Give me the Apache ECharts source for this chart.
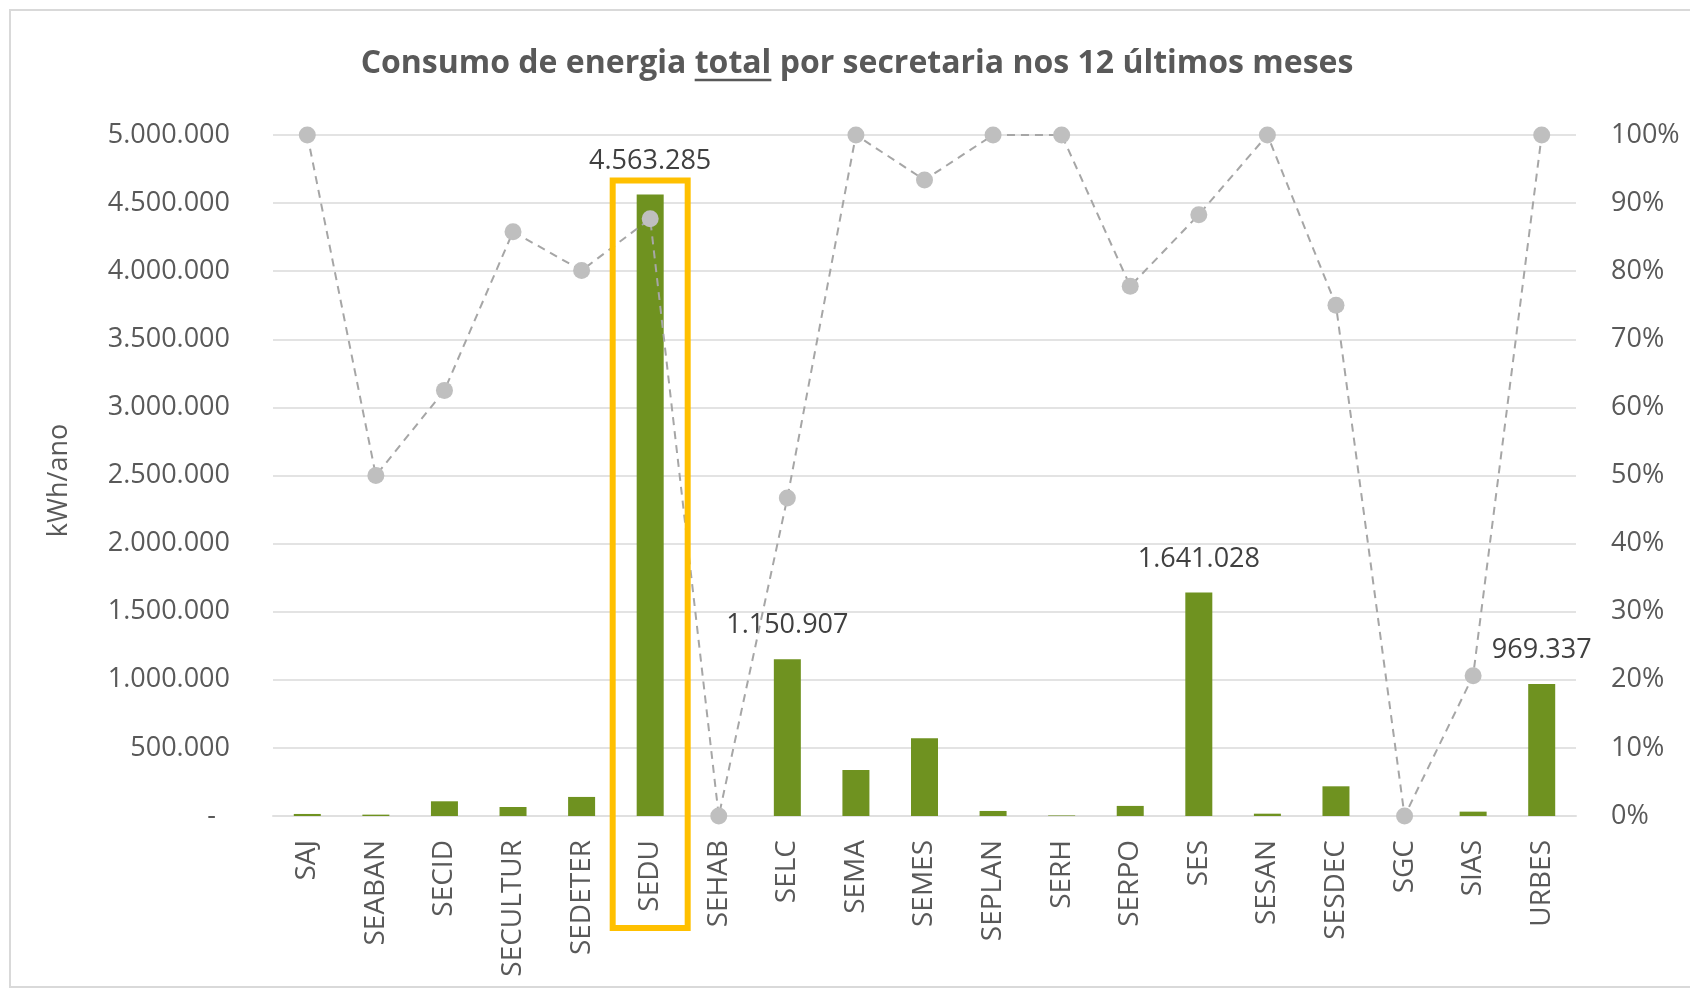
<!DOCTYPE html>
<html>
<head>
<meta charset="utf-8">
<script src="https://cdn.jsdelivr.net/npm/echarts@6/dist/echarts.min.js"></script>
<style>
html,body{margin:0;padding:0;background:#fff;}
#c{width:1690px;height:989px;}
</style>
</head>
<body>
<div id="c"></div>
<script>
const categories = ['SAJ','SEABAN','SECID','SECULTUR','SEDETER','SEDU','SEHAB','SELC','SEMA','SEMES','SEPLAN','SERH','SERPO','SES','SESAN','SESDEC','SGC','SIAS','URBES'];
const consumo = [15000, 10000, 108000, 66000, 140000, 4563285, 0, 1150907, 338000, 571000, 37000, 4000, 74000, 1641028, 17000, 218000, 0, 32000, 969337];
const percentual = [1.00, 0.50, 0.625, 0.858, 0.801, 0.877, 0.00, 0.467, 1.00, 0.934, 1.00, 1.00, 0.778, 0.883, 1.00, 0.75, 0.00, 0.206, 1.00];
const labeledBars = ['SEDU','SELC','SES','URBES'];
const highlighted = 'SEDU';
const titleParts = ['Consumo de energia ', 'total', ' por secretaria nos 12 últimos meses'];
const yAxisName = 'kWh/ano';

const FONT = "'Open Sans', 'Noto Sans', sans-serif";
const TXT = '#595959';
const FS = 27;

function fmt(v){
  return Math.round(v).toString().replace(/\B(?=(\d{3})+(?!\d))/g, '.');
}

const chart = echarts.init(document.getElementById('c'), null, {renderer:'canvas'});

const barData = consumo.map((v,i)=>({
  value: v,
  label: {show: labeledBars.indexOf(categories[i]) >= 0}
}));

const option = {
  animation: false,
  backgroundColor: '#fff',
  grid: {left: 273, right: 114, top: 135, bottom: 173, containLabel: false},
  xAxis: {
    type: 'category',
    data: categories,
    axisLine: {show: true, lineStyle: {color: '#e0e0e0', width: 2}},
    axisTick: {show: false},
    axisLabel: {rotate: 90, margin: 24, color: TXT, fontSize: 28, fontFamily: FONT, interval: 0}
  },
  yAxis: [{
    type: 'value', min: 0, max: 5000000, interval: 500000,
    name: yAxisName, nameLocation: 'middle', nameGap: 200, nameRotate: 90,
    nameTextStyle: {color: TXT, fontSize: FS, fontFamily: FONT, padding: [0,0,0,-10]},
    axisLine: {show: false}, axisTick: {show: false},
    splitLine: {lineStyle: {color: '#e3e3e3', width: 2}},
    axisLabel: {
      margin: 43, color: TXT, fontSize: FS, fontFamily: FONT,
      formatter: v => v === 0 ? '{d|-}' : fmt(v),
      rich: {d: {color: TXT, fontSize: FS, fontFamily: FONT, padding: [0,14,0,0]}}
    }
  },{
    type: 'value', min: 0, max: 1, interval: 0.1, position: 'right',
    axisLine: {show: false}, axisTick: {show: false}, splitLine: {show: false},
    axisLabel: {margin: 35, color: TXT, fontSize: FS, fontFamily: FONT,
      formatter: v => Math.round(v*100) + '%'}
  }],
  series: [{
    type: 'bar', data: barData, barWidth: 27, yAxisIndex: 0,
    itemStyle: {color: '#6f9220'},
    label: {position: 'top', distance: 20, color: '#404040', fontSize: FS, fontFamily: FONT,
      formatter: p => fmt(p.value)},
    z: 2
  },{
    type: 'line', data: percentual, yAxisIndex: 1,
    symbol: 'circle', symbolSize: 17,
    itemStyle: {color: '#bfbfbf'},
    lineStyle: {color: '#a6a6a6', width: 2, type: [8, 6]},
    z: 3
  }]
};
chart.setOption(option);

// title with underline on "total" and annotation rectangle
const titleFont = "bold 32px 'Open Sans'";
const cv = document.createElement('canvas').getContext('2d');
cv.font = titleFont;
const full = titleParts.join('');
const W = cv.measureText(full).width;
const pW = cv.measureText(titleParts[0]).width;
const tW = cv.measureText(titleParts[1]).width;
const tx = 857, ty = 64;
const ux1 = tx - W/2 + pW;

const idx = categories.indexOf(highlighted);
const cx = chart.convertToPixel({xAxisIndex: 0}, highlighted);
const yTop = chart.convertToPixel({yAxisIndex: 0}, consumo[idx]);
const yBase = chart.convertToPixel({yAxisIndex: 0}, 0);
const rw = 75;

chart.setOption({
  graphic: [
    {type: 'rect', silent: true, shape: {x: 10, y: 10, width: 1720, height: 977},
      style: {fill: 'none', stroke: '#d9d9d9', lineWidth: 2}, z: -10},
    {type: 'text', x: tx, y: ty, style: {text: full, font: titleFont, fill: TXT,
      textAlign: 'center', textVerticalAlign: 'middle'}},
    {type: 'line', shape: {x1: ux1, y1: ty + 16, x2: ux1 + tW, y2: ty + 16},
      style: {stroke: TXT, lineWidth: 2.5}},
    {type: 'rect', shape: {x: cx - rw/2, y: yTop - 14, width: rw, height: (yBase + 112) - (yTop - 14)},
      style: {fill: 'none', stroke: '#ffc000', lineWidth: 6}, z: 10}
  ]
});
</script>
</body>
</html>
